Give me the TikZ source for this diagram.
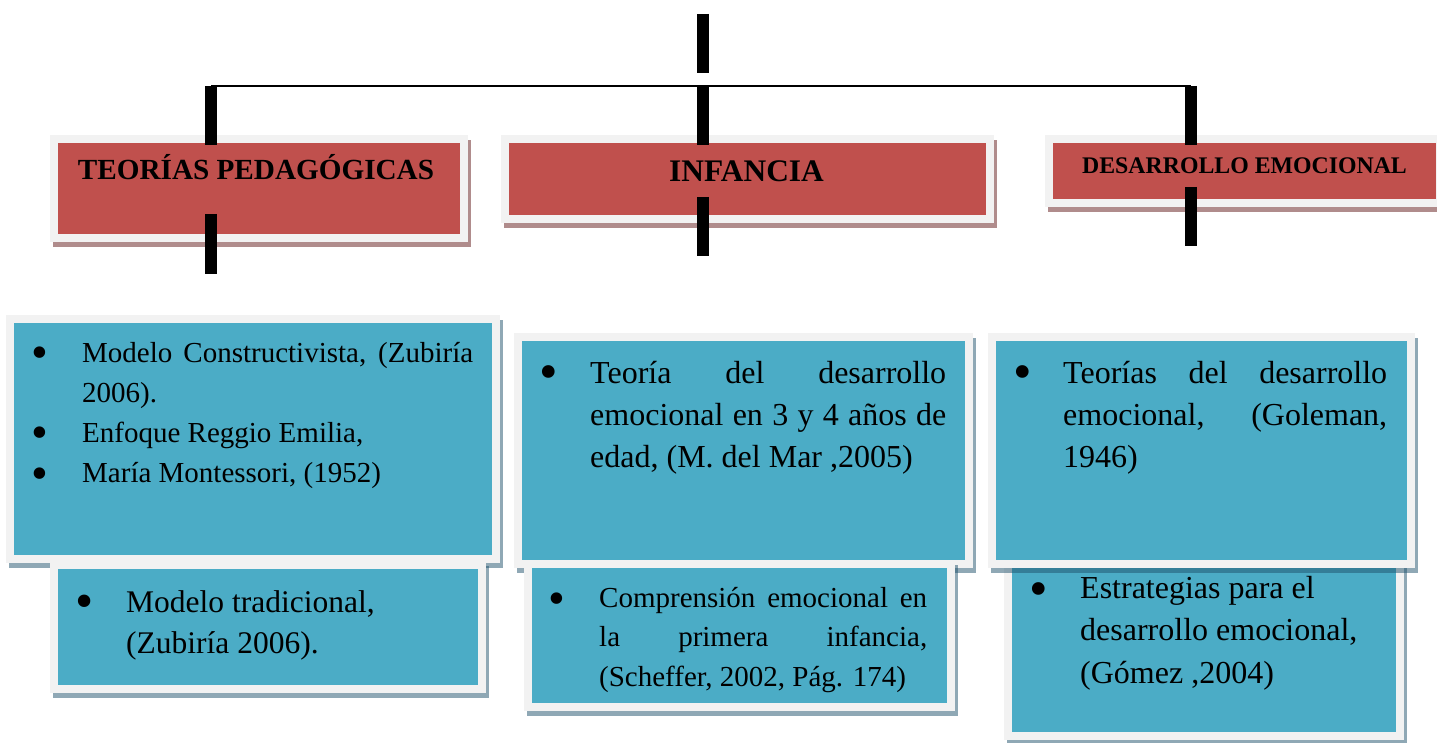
\documentclass[tikz,border=0pt]{standalone}
\usepackage{fontspec}
\setmainfont{Liberation Serif}
\definecolor{hred}{HTML}{C0504D}
\definecolor{bblue}{HTML}{4BACC6}
\definecolor{frameg}{HTML}{F2F2F2}
\definecolor{rshad}{RGB}{97,25,25}
\definecolor{bshad}{RGB}{31,81,107}
\tikzset{
  cbox/.style 2 args={fill=frameg, draw=none, inner sep=0pt, outer sep=0pt,
    preaction={fill=#2, fill opacity=0.5, transform canvas={shift={(3pt,-5pt)}}},
    path picture={\fill[#1] ([shift={(8pt,-8pt)}]path picture bounding box.north west) rectangle ([shift={(-8pt,8pt)}]path picture bounding box.south east);}},
  hdrtxt/.style={inner sep=0pt, anchor=base},
  bultxt/.style={inner sep=0pt, anchor=base},
  itemtxt/.style={inner sep=0pt, anchor=base west},
  barline/.style={line width=11.5pt, black},
  thinline/.style={line width=1.6pt, black}
}
\newcommand{\jline}[1]{\makebox[\linewidth][s]{#1}}
\begin{document}
\begin{tikzpicture}[x=1pt,y=-1pt]
\useasboundingbox (0,0) rectangle (1437,743);
\clip (0,0) rectangle (1437,743);

% header boxes
\node[cbox={hred}{rshad}, minimum width=418pt, minimum height=107pt] (H1) at (259,188.5) {};
\node[cbox={hred}{rshad}, minimum width=493pt, minimum height=88pt] (H2) at (747.5,179) {};
\node[cbox={hred}{rshad}, minimum width=399pt, minimum height=72pt] (H3) at (1244.5,171) {};

\node[hdrtxt, font=\bfseries\fontsize{29.2pt}{35pt}\selectfont] (H1t) at (256,180) {TEORÍAS PEDAGÓGICAS};
\node[hdrtxt, font=\bfseries\fontsize{31.4pt}{38pt}\selectfont] (H2t) at (746.5,182) {INFANCIA};
\node[hdrtxt, font=\bfseries\fontsize{23.8pt}{29pt}\selectfont] (H3t) at (1244.5,174) {DESARROLLO EMOCIONAL};

% content boxes
\node[cbox={bblue}{bshad}, minimum width=494pt, minimum height=248pt] (L1) at (253,439) {};
\node[cbox={bblue}{bshad}, minimum width=436pt, minimum height=132pt] (L2) at (268,627) {};
\node[cbox={bblue}{bshad}, minimum width=459pt, minimum height=235pt] (M1) at (743.5,450.5) {};
\node[cbox={bblue}{bshad}, minimum width=431pt, minimum height=151pt] (M2) at (739.5,635.5) {};
\node[cbox={bblue}{bshad}, minimum width=400pt, minimum height=180pt] (R2) at (1204,650) {};
\node[cbox={bblue}{bshad}, minimum width=427pt, minimum height=235pt] (R1) at (1201.5,450.5) {};

% left texts
\begin{scope}[font=\fontsize{48pt}{50pt}\selectfont]
\node[bultxt] (L1b1) at (40,368) {•};
\node[bultxt] (L1b2) at (40,448) {•};
\node[bultxt] (L1b3) at (40,489) {•};
\end{scope}
\begin{scope}[font=\fontsize{29pt}{40pt}\selectfont]
\node[itemtxt] (L1i1) at (82,362) {\parbox[t]{391pt}{\jline{Modelo Constructivista, (Zubiría}\\2006).}};
\node[itemtxt] (L1i2) at (82,442) {Enfoque Reggio Emilia,};
\node[itemtxt] (L1i3) at (82,482) {María Montessori, (1952)};
\end{scope}
\node[bultxt, font=\fontsize{52pt}{54pt}\selectfont] (L2b1) at (85,618) {•};
\begin{scope}[font=\fontsize{31.5pt}{41pt}\selectfont]
\node[itemtxt] (L2i1) at (126,612) {\parbox[t]{340pt}{Modelo tradicional,\\(Zubiría 2006).}};
\end{scope}

% middle texts
\node[bultxt, font=\fontsize{53pt}{55pt}\selectfont] (M1b1) at (549,389.5) {•};
\begin{scope}[font=\fontsize{32pt}{42pt}\selectfont]
\node[itemtxt] (M1i1) at (590,383) {\parbox[t]{356pt}{\jline{Teoría del desarrollo}\\\jline{emocional en 3 y 4 años de}\\edad, (M. del Mar ,2005)}};
\end{scope}
\node[bultxt, font=\fontsize{48pt}{50pt}\selectfont] (M2b1) at (557,614) {•};
\begin{scope}[font=\fontsize{29pt}{39.5pt}\selectfont]
\node[itemtxt] (M2i1) at (599,607) {\parbox[t]{328pt}{\jline{Comprensión emocional en}\\\jline{la primera infancia,}\\(Scheffer, 2002, Pág. 174)}};
\end{scope}

% right texts
\node[bultxt, font=\fontsize{53pt}{55pt}\selectfont] (R1b1) at (1023,389.5) {•};
\begin{scope}[font=\fontsize{32pt}{42pt}\selectfont]
\node[itemtxt] (R1i1) at (1063,383) {\parbox[t]{324pt}{\jline{Teorías del desarrollo}\\\jline{emocional, (Goleman,}\\1946)}};
\end{scope}
\node[bultxt, font=\fontsize{53pt}{55pt}\selectfont] (R2b1) at (1039,606.5) {•};
\begin{scope}[font=\fontsize{32pt}{42.5pt}\selectfont]
\node[itemtxt] (R2i1) at (1080,598) {\parbox[t]{310pt}{Estrategias para el\\desarrollo emocional,\\(Gómez ,2004)}};
\end{scope}

% connectors
\coordinate (top1) at (703,14);
\coordinate (top2) at (703,73);
\coordinate (hl) at (211,86);
\coordinate (hm) at (703,86);
\coordinate (hr) at (1191,86);
\coordinate (a1) at (211,145);
\coordinate (a2) at (703,145);
\coordinate (a3) at (1191,145);
\coordinate (b1s) at (211,214);
\coordinate (b1e) at (211,274);
\coordinate (b2s) at (703,197);
\coordinate (b2e) at (703,256);
\coordinate (b3s) at (1191,187);
\coordinate (b3e) at (1191,246);

\draw[barline] (top1) -- (top2);
\draw[thinline] (hl) -- (hr);
\draw[barline] (hl) -- (a1);
\draw[barline] (hm) -- (a2);
\draw[barline] (hr) -- (a3);
\draw[barline] (b1s) -- (b1e);
\draw[barline] (b2s) -- (b2e);
\draw[barline] (b3s) -- (b3e);
\end{tikzpicture}
\end{document}
